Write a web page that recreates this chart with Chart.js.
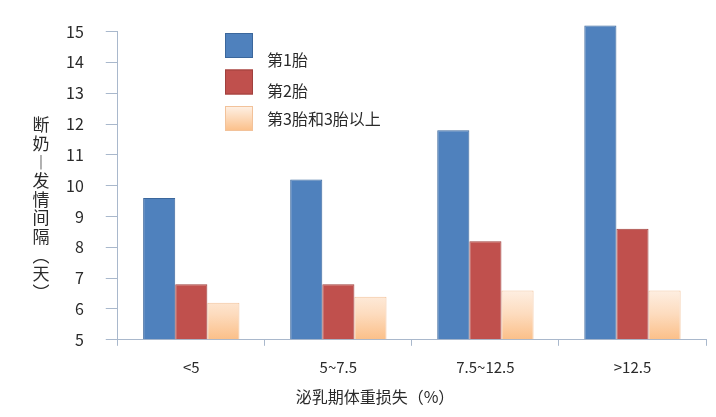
<!DOCTYPE html>
<html>
<head>
<meta charset="utf-8">
<script src="https://cdn.jsdelivr.net/npm/chart.js@4/dist/chart.umd.min.js"></script>
<style>
  html, body { margin: 0; padding: 0; background: #fff; }
  #wrap { width: 716px; height: 417px; }
</style>
</head>
<body>
<div id="wrap"><canvas id="grafico"></canvas></div>
<script>
// datos
let categorias = ['<5', '5~7.5', '7.5~12.5', '>12.5'];
let nombresSeries = ['第1胎', '第2胎', '第3胎和3胎以上'];
let valoresParto1 = [9.6, 10.2, 11.8, 15.2];
let valoresParto2 = [6.8, 6.8, 8.2, 8.6];
let valoresParto3 = [6.2, 6.4, 6.6, 6.6];
let ticksY = [5, 6, 7, 8, 9, 10, 11, 12, 13, 14, 15];
let tituloY = ['断', '奶', '︱', '发', '情', '间', '隔', '︵', '天', '︶'];
let tituloX = '泌乳期体重损失（%）';

const fuente = '"Noto Sans CJK SC", "Noto Sans", sans-serif';
const colorEje = '#a9b8cc';
const colorTexto = '#2a2a2a';

// degradado naranja claro -> naranja para la tercera serie
function degradadoNaranja(context) {
    const chart = context.chart;
    const area = chart.chartArea;
    if (!area) return '#fcd5b4';
    const yTop = chart.scales.y.getPixelForValue(6.7);
    const g = chart.ctx.createLinearGradient(0, yTop, 0, area.bottom);
    g.addColorStop(0, '#fef1e6');
    g.addColorStop(0.5, '#fddcbf');
    g.addColorStop(1, '#fbbf88');
    return g;
}

// leyenda dentro del area del grafico
const leyendaInterna = {
    id: 'leyendaInterna',
    afterDatasetsDraw(chart) {
        const ctx = chart.ctx;
        const textoY = [60, 91, 119];
        ctx.save();
        chart.data.datasets.forEach((ds, i) => {
            const x = 225, y = 33 + i * 36.5;
            let relleno = ds.backgroundColor;
            if (typeof relleno === 'function') {
                const g = ctx.createLinearGradient(0, y, 0, y + 25);
                g.addColorStop(0, '#fef1e6');
                g.addColorStop(1, '#fbbf88');
                relleno = g;
            }
            ctx.fillStyle = relleno;
            ctx.fillRect(x, y, 28, 25);
            ctx.strokeStyle = ds.borderColor;
            ctx.lineWidth = 1;
            ctx.strokeRect(x + 0.5, y + 0.5, 27, 24);
            ctx.fillStyle = colorTexto;
            ctx.font = '16px ' + fuente;
            ctx.textBaseline = 'middle';
            ctx.fillText(ds.label, 267, textoY[i]);
        });
        ctx.restore();
    }
};

// titulo vertical del eje y, caracter por caracter
const tituloVertical = {
    id: 'tituloVertical',
    afterDraw(chart) {
        const ctx = chart.ctx;
        ctx.save();
        ctx.fillStyle = colorTexto;
        ctx.font = '17px ' + fuente;
        ctx.textAlign = 'center';
        ctx.textBaseline = 'middle';
        tituloY.forEach((c, i) => {
            ctx.fillText(c, 41, 125 + i * 18.6);
        });
        ctx.restore();
    }
};

const ctx = document.getElementById('grafico').getContext('2d');
new Chart(ctx, {
    type: 'bar',
    data: {
        labels: categorias,
        datasets: [{
            label: nombresSeries[0],
            data: valoresParto1,
            base: 5,
            backgroundColor: '#4f81bd',
            borderColor: '#3b679c',
            borderWidth: 1,
            clip: false
        }, {
            label: nombresSeries[1],
            data: valoresParto2,
            base: 5,
            backgroundColor: '#c0504d',
            borderColor: '#a0403d',
            borderWidth: 1
        }, {
            label: nombresSeries[2],
            data: valoresParto3,
            base: 5,
            backgroundColor: degradadoNaranja,
            borderColor: '#f2c29a',
            borderWidth: 1
        }]
    },
    options: {
        responsive: true,
        maintainAspectRatio: false,
        animation: false,
        layout: { padding: { top: 29, right: 10, left: 44, bottom: 0 } },
        datasets: { bar: { categoryPercentage: 0.655, barPercentage: 1 } },
        plugins: {
            legend: { display: false },
            tooltip: { enabled: false },
            title: {
                display: true,
                position: 'bottom',
                text: tituloX,
                color: colorTexto,
                font: { family: fuente, size: 16, weight: 'normal' },
                padding: { top: 0, bottom: 10 }
            }
        },
        scales: {
            x: {
                offset: true,
                grid: { offset: true, drawOnChartArea: false, tickLength: 6, color: colorEje },
                border: { color: colorEje, width: 1 },
                ticks: { color: colorTexto, padding: 12, font: { family: fuente, size: 15 } }
            },
            y: {
                min: 5,
                max: 15,
                afterBuildTicks(scale) {
                    scale.ticks = ticksY.map(v => ({ value: v }));
                },
                grid: { drawOnChartArea: false, tickLength: 12, color: colorEje },
                border: { color: colorEje, width: 1 },
                ticks: { color: colorTexto, padding: 22, font: { family: fuente, size: 16 } }
            }
        }
    },
    plugins: [leyendaInterna, tituloVertical]
});
</script>
</body>
</html>
